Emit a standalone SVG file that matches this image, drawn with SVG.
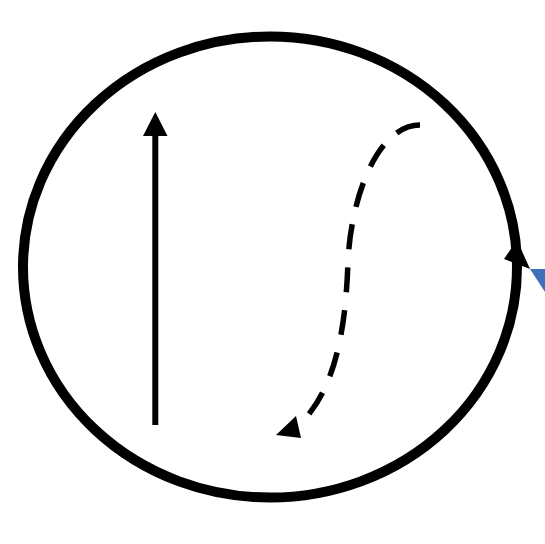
<svg xmlns="http://www.w3.org/2000/svg" width="545" height="544" viewBox="0 0 545 544">
<style>
.ring{fill:none;stroke:#000;stroke-width:10}
.solid{fill:none;stroke:#000;stroke-width:6}
.dash{fill:none;stroke:#000;stroke-width:5.5;stroke-dasharray:25 18}
.head{fill:#000;stroke:none}
</style>
<rect width="545" height="544" fill="#fff"/>
<g id="cycle">
<ellipse class="ring" cx="270" cy="267" rx="247" ry="230.5"/>
<polygon class="head" points="517,240 504,259 530,269"/>
</g>
<polygon id="blue-mark" fill="#3F6FB8" points="530,269 545,269 545,292"/>
<g id="connectors">
<line class="solid" x1="155.3" y1="425" x2="155.3" y2="134"/>
<polygon class="head" points="155.3,112 143,136 167.5,136"/>
<path class="dash" d="M420,125 C380,125 352,190 348,260 C346,330 335,390 300,424"/>
<polygon class="head" points="276,435 296,416 301,438"/>
</g>
</svg>
